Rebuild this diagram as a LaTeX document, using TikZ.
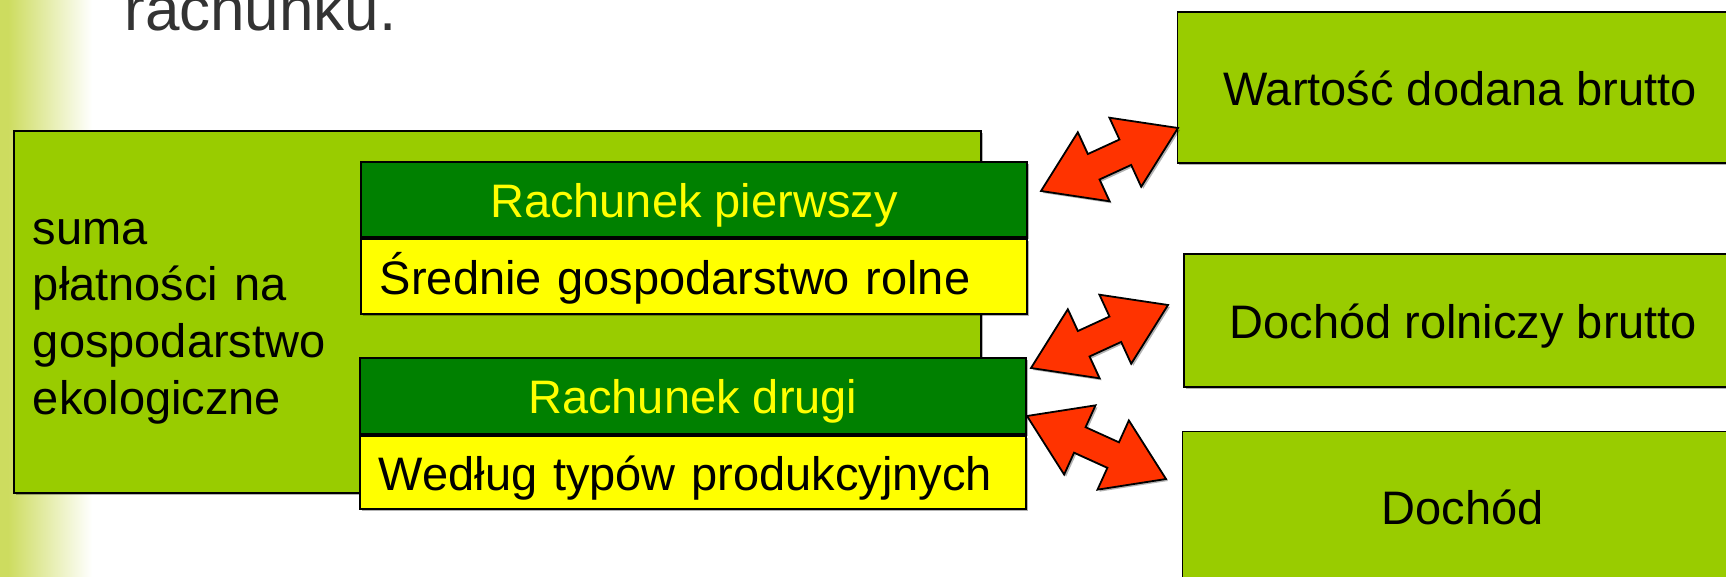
\documentclass[tikz,border=0pt]{standalone}
\usepackage{fontspec}
\setmainfont{Liberation Sans}
\usetikzlibrary{calc,shadows}
\definecolor{lime}{RGB}{153,204,0}
\definecolor{dgreen}{RGB}{0,128,0}
\definecolor{ylw}{RGB}{255,255,0}
\definecolor{redarrow}{RGB}{255,51,0}
\definecolor{stripc}{RGB}{205,220,95}
\definecolor{titlec}{RGB}{51,51,51}
\newcommand{\BlockArrowDraw}[2]{%
  \draw[blockarrow] (#1) -- ($(#1)!34.67pt!33.23:(#2)$) -- ($(#1)!29.83pt!13.57:(#2)$)
    -- ($(#2)!29.83pt!-13.57:(#1)$) -- ($(#2)!34.67pt!-33.23:(#1)$) -- (#2)
    -- ($(#2)!34.67pt!33.23:(#1)$) -- ($(#2)!29.83pt!13.57:(#1)$)
    -- ($(#1)!29.83pt!-13.57:(#2)$) -- ($(#1)!34.67pt!-33.23:(#2)$) -- cycle;}
\begin{document}
\begin{tikzpicture}[x=0.5pt,y=-0.5pt,
  softshadow/.style={general shadow={fill=black, opacity=0.3, shadow xshift=1pt, shadow yshift=-1pt}},
  box/.style={draw=black, line width=0.9pt, inner sep=0pt, anchor=north west, softshadow,
    font=\fontsize{23.5pt}{28.35pt}\selectfont},
  limebox/.style={box, fill=lime},
  hdrbox/.style={box, fill=dgreen, text=ylw, text height=22pt, text depth=4pt, minimum width=333pt},
  subbox/.style={box, fill=ylw, text height=22pt, text depth=4pt, text width=314pt,
    inner xsep=9.5pt, align=left, minimum width=333pt},
  resbox/.style={limebox, text height=22pt, text depth=4pt},
  blockarrow/.style={draw=black, line width=0.9pt, fill=redarrow, line join=miter, softshadow}]
\useasboundingbox (0,0) rectangle (1726,577);
\clip (0,0) rectangle (1726,577);
% left gradient strip
\fill[stripc] (0,0) rectangle (9,577);
\shade[left color=stripc, right color=white] (8,0) rectangle (92,577);
% title remainder
\node[anchor=base west, inner sep=0pt, text=titlec, font=\fontsize{31pt}{37pt}\selectfont] (title) at (124,31) {rachunku.};
% big box
\node[limebox, minimum width=483.5pt, minimum height=181pt, text width=464.5pt, inner xsep=9.5pt,
  align=left, text height=20pt, text depth=87.7pt] (sum) at (13,130)
  {suma\\płatności na\\gospodarstwo\\ekologiczne};
% accounts
\node[hdrbox, minimum height=37.5pt] (r1) at (360,161) {Rachunek pierwszy};
\node[subbox, minimum height=37.5pt] (s1) at (r1.south west) {Średnie gospodarstwo rolne};
\node[hdrbox, minimum height=38pt] (r2) at (359,357) {Rachunek drugi};
\node[subbox, minimum height=36.5pt] (s2) at (r2.south west) {Według typów produkcyjnych};
% result boxes
\node[resbox, minimum width=282.75pt, minimum height=75.5pt] (w) at (1176.5,11) {Wartość dodana brutto};
\node[resbox, minimum width=279.5pt, minimum height=66.5pt] (d1) at (1183,253.5) {Dochód rolniczy brutto};
\node[resbox, minimum width=280.2pt, minimum height=75pt] (d2) at (1181.6,430.6) {Dochód};
% arrows
\coordinate (a1s) at (1041,191); \coordinate (a1e) at (1178,128);
\coordinate (a2s) at (1031,368); \coordinate (a2e) at (1168,305);
\coordinate (a3s) at (1027,416); \coordinate (a3e) at (1166,479);
\BlockArrowDraw{a1s}{a1e}
\BlockArrowDraw{a2s}{a2e}
\BlockArrowDraw{a3s}{a3e}
\end{tikzpicture}
\end{document}
